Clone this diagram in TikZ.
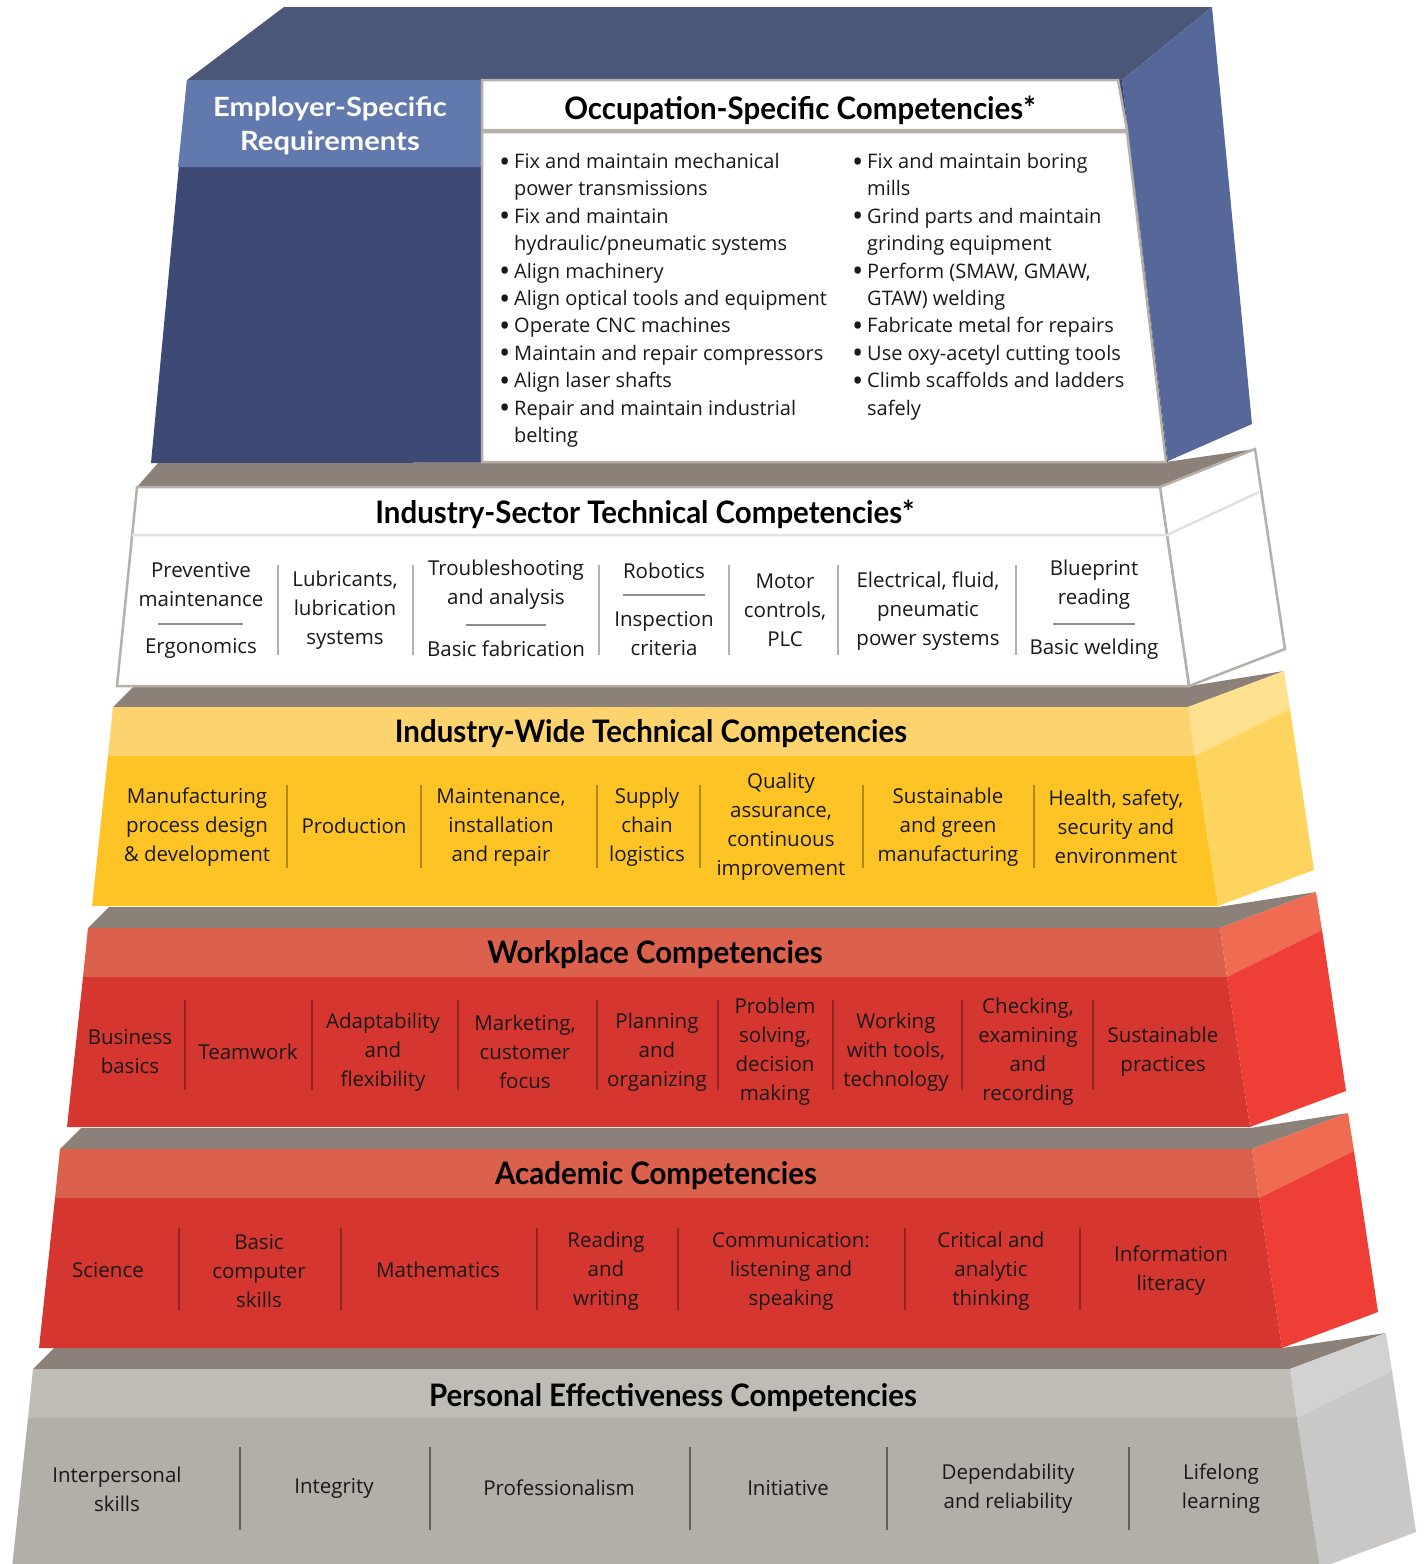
\documentclass[tikz,border=0pt]{standalone}
\usepackage{fontspec}
\setmainfont{Open Sans}
\newfontfamily\hdfont{Lato}
\usepackage{graphicx}
\usepackage{xcolor}
\usepackage{tikz}
\usetikzlibrary{positioning,%
  calc%
}

\definecolor{ledge}{HTML}{8C8178}
\definecolor{edge}{HTML}{B5B0AA}
\definecolor{divline}{HTML}{E3E1DE}
\definecolor{bluetop}{HTML}{4A5779}
\definecolor{blueside}{HTML}{56679A}
\definecolor{bluefront}{HTML}{3D4A75}
\definecolor{bluehead}{HTML}{6279AE}
\definecolor{ylwH}{HTML}{FDD36E}
\definecolor{ylwB}{HTML}{FEC425}
\definecolor{ylwSH}{HTML}{FEE08F}
\definecolor{ylwSB}{HTML}{FDD45E}
\definecolor{redH}{HTML}{DC614D}
\definecolor{redB}{HTML}{D63630}
\definecolor{redSH}{HTML}{EF6C53}
\definecolor{redSB}{HTML}{EE3E36}
\definecolor{gryH}{HTML}{BFBBB5}
\definecolor{gryB}{HTML}{B2AEA8}
\definecolor{grySH}{HTML}{D3D2D0}
\definecolor{grySB}{HTML}{C9C8C6}

\newcommand\hd[1]{\scalebox{0.95}[1]{#1}}
\newcommand\bul{\makebox[15pt][l]{\raisebox{-3.6pt}{\scalebox{1.5}{\textbullet}}}}
\newcommand\ind{\hspace*{15pt}}

\tikzset{
  itm/.style={align=center, inner sep=0pt, text=black!90, font=\fontsize{20.5}{29}\selectfont},
  ttl/.style={anchor=base, inner sep=0pt, font=\hdfont\bfseries\fontsize{31}{34}\selectfont},
  bullets/.style={anchor=north west, align=left, inner sep=0pt, text=black!90, font=\fontsize{20}{27.4}\selectfont},
  sepline/.style={line width=1.3pt, draw=black, draw opacity=0.3},
  subrule/.style={line width=1.5pt, draw=black!45},
  boxline/.style={draw=edge, line width=2.5pt, line join=miter},
}

\begin{document}
\begin{tikzpicture}[x=1pt, y=-1pt]
            \useasboundingbox (0,0) rectangle (1427,1564);

            % coloured layers, bottom first
            \foreach \T/\L/\R/\U/\ch/\cb/\sh/\sb in {1369/33/1290/1282/gryH/gryB/grySH/grySB,
                1149/60/1252/1250/redH/redB/redSH/redSB,
                928/88/1220/1218/redH/redB/redSH/redSB,
                707/113/1188/1190/ylwH/ylwB/ylwSH/ylwSB}{
              \fill[ledge] (\L,\T) -- (\R,\T) -- ++(96,-36) -- (\U,\T-21) -- (\L+21,\T-21) -- cycle;
              \fill[\sh] (\R,\T) -- ++(96,-36) -- ++(6,38) -- (\R+7,\T+49) -- cycle;
              \fill[\sb] (\R+7,\T+49) -- (\R+102,\T+2) -- (\R+126,\T+163) -- (\R+30,\T+199) -- cycle;
              \fill[\ch] (\L,\T) -- (\R,\T) -- (\R+7,\T+49) -- (\L-5,\T+49) -- cycle;
              \fill[\cb] (\L-5,\T+49) -- (\R+7,\T+49) -- (\R+30,\T+199) -- (\L-21,\T+199) -- cycle;
            }

            % industry-sector layer
            \fill[ledge] (137,487) -- (1160,487) -- (1255,449) -- (1166,462) -- (158,463) -- cycle;
            \filldraw[fill=white, boxline] (1160,487) -- (1255,449) -- (1285,649) -- (1189,686) -- cycle;
            \filldraw[fill=white, boxline] (137,487) -- (1160,487) -- (1189,686) -- (117,686) -- cycle;
            \draw[divline, line width=2.5pt] (132,535) -- (1167,535) -- (1259,492);

            % employer / occupation block
            \fill[bluetop] (187,80) -- (284,7) -- (1212,7) -- (1122,80) -- cycle;
            \fill[blueside] (1122,80) -- (1212,7) -- (1252,424) -- (1168,461) -- cycle;
            \fill[bluefront] (187,80) -- (1122,80) -- (1168,462) -- (151,463) -- cycle;
            \fill[bluehead] (187,80) -- (482,80) -- (482,167) -- (178,167) -- cycle;
            \filldraw[fill=white, boxline] (482,80) -- (1118,80) -- (1127,130) -- (482,130) -- cycle;
            \filldraw[fill=white, boxline] (482,132) -- (1127,132) -- (1166,462) -- (482,462) -- cycle;

            \node[ttl, text=white, font=\hdfont\bfseries\fontsize{26.5}{30}\selectfont] (emp1) at (330,116) {\scalebox{1.1}[1]{Employer-Specific}};
            \node[ttl, text=white, font=\hdfont\bfseries\fontsize{26.5}{30}\selectfont] (emp2) at (330,150) {\scalebox{1.1}[1]{Requirements}};
            \node[ttl] (occ) at (800,119) {\hd{Occupation-Specific Competencies*}};

            \node[bullets] (occL) at (499,153) {\bul Fix and maintain mechanical\\
              \ind power transmissions\\
              \bul Fix and maintain\\
              \ind hydraulic/pneumatic systems\\
              \bul Align machinery\\
              \bul Align optical tools and equipment\\
              \bul Operate CNC machines\\
              \bul Maintain and repair compressors\\
              \bul Align laser shafts\\
              \bul Repair and maintain industrial\\
              \ind belting};
            \node[bullets] (occR) at (852,153) {\bul Fix and maintain boring\\
              \ind mills\\
              \bul Grind parts and maintain\\
              \ind grinding equipment\\
              \bul Perform (SMAW, GMAW,\\
              \ind GTAW) welding\\
              \bul Fabricate metal for repairs\\
              \bul Use oxy-acetyl cutting tools\\
              \bul Climb scaffolds and ladders\\
              \ind safely};

            % industry-sector texts
            \node[ttl] (hsec) at (645,523) {\hd{Industry-Sector Technical Competencies*}};
            \foreach \x in {278,413,599,729,838,1016}
              \draw[sepline] (\x,565) -- (\x,655);
            \node[itm] (s1a) at (201,585) {Preventive\\maintenance};
            \node[itm] (s1b) at (201,648) {Ergonomics};
            \node[itm] (s2) at (345,610) {Lubricants,\\lubrication\\systems};
            \node[itm] (s3a) at (506,585) {Troubleshooting\\and analysis};
            \node[itm] (s3b) at (506,649) {Basic fabrication};
            \node[itm] (s4a) at (664,571) {Robotics};
            \node[itm] (s4b) at (664,634) {Inspection\\criteria};
            \node[itm] (s5) at (785,610) {Motor\\controls,\\PLC};
            \node[itm] (s6) at (928,611) {Electrical, fluid,\\pneumatic\\power systems};
            \node[itm] (s7a) at (1094,585) {Blueprint\\reading};
            \node[itm] (s7b) at (1094,649) {Basic welding};
            \draw[subrule] (158,624) -- (243,624);
            \draw[subrule] (466,625) -- (546,625);
            \draw[subrule] (623,595) -- (705,595);
            \draw[subrule] (1053,624) -- (1135,624);

            % industry-wide texts
            \node[ttl] (hwide) at (651,742) {\hd{Industry-Wide Technical Competencies}};
            \foreach \x in {287,421,597,700,863,1034}
              \draw[sepline] (\x,785) -- (\x,868);
            \node[itm] (w1) at (197,827) {Manufacturing\\process design\\\& development};
            \node[itm] (w2) at (354,826) {Production};
            \node[itm] (w3) at (501,827) {Maintenance,\\installation\\and repair};
            \node[itm] (w4) at (647,827) {Supply\\chain\\logistics};
            \node[itm] (w5) at (781,827) {Quality\\assurance,\\continuous\\improvement};
            \node[itm] (w6) at (948,827) {Sustainable\\and green\\manufacturing};
            \node[itm] (w7) at (1116,827) {Health, safety,\\security and\\environment};

            % workplace texts
            \node[ttl] (hwork) at (655,963) {\hd{Workplace Competencies}};
            \foreach \x in {185,312,458,597,718,833,962,1093}
              \draw[sepline] (\x,1000) -- (\x,1090);
            \node[itm] (p1) at (130,1052) {Business\\basics};
            \node[itm] (p2) at (248,1052) {Teamwork};
            \node[itm] (p3) at (383,1052) {Adaptability\\and\\flexibility};
            \node[itm] (p4) at (525,1052) {Marketing,\\customer\\focus};
            \node[itm] (p5) at (657,1052) {Planning\\and\\organizing};
            \node[itm] (p6) at (775,1052) {Problem\\solving,\\decision\\making};
            \node[itm] (p7) at (896,1052) {Working\\with tools,\\technology};
            \node[itm] (p8) at (1028,1052) {Checking,\\examining\\and\\recording};
            \node[itm] (p9) at (1163,1052) {Sustainable\\practices};

            % academic texts
            \node[ttl] (hacad) at (656,1184) {\hd{Academic Competencies}};
            \foreach \x in {179,341,537,678,905,1080}
              \draw[sepline] (\x,1228) -- (\x,1310);
            \node[itm] (a1) at (108,1270) {Science};
            \node[itm] (a2) at (259,1271) {Basic\\computer\\skills};
            \node[itm] (a3) at (438,1270) {Mathematics};
            \node[itm] (a4) at (606,1271) {Reading\\and\\writing};
            \node[itm] (a5) at (791,1271) {Communication:\\listening and\\speaking};
            \node[itm] (a6) at (991,1271) {Critical and\\analytic\\thinking};
            \node[itm] (a7) at (1171,1271) {Information\\literacy};

            % personal effectiveness texts
            \node[ttl] (hpers) at (673,1406) {\hd{Personal Effectiveness Competencies}};
            \foreach \x in {240,430,690,887,1129}
              \draw[sepline, draw opacity=0.45] (\x,1447) -- (\x,1530);
            \node[itm] (e1) at (117,1489) {Interpersonal\\skills};
            \node[itm] (e2) at (334,1488) {Integrity};
            \node[itm] (e3) at (559,1488) {Professionalism};
            \node[itm] (e4) at (788,1488) {Initiative};
            \node[itm] (e5) at (1008,1489) {Dependability\\and reliability};
            \node[itm] (e6) at (1221,1489) {Lifelong\\learning};
\end{tikzpicture}
\end{document}
